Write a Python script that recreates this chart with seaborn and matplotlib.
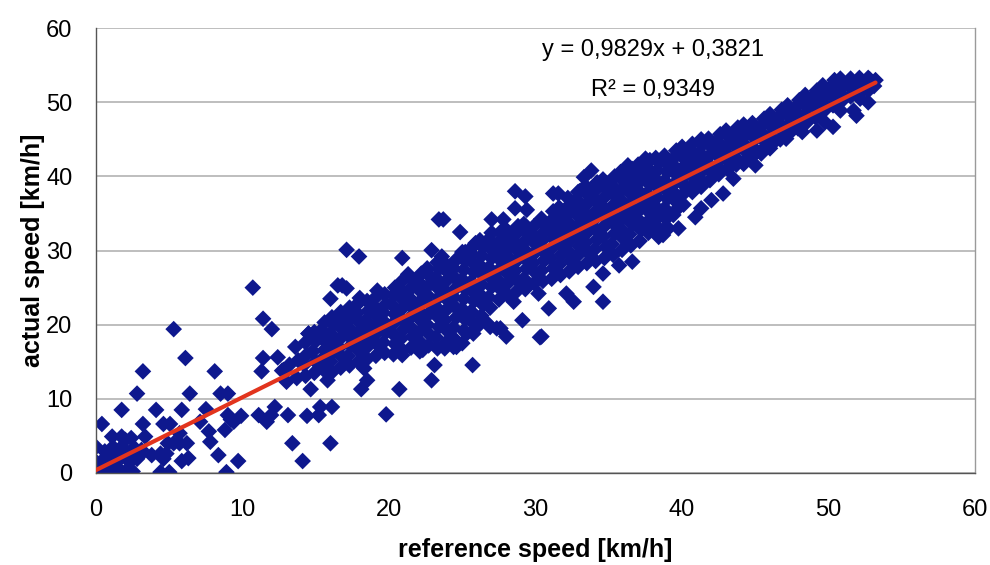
#!/usr/bin/env python3
"""Scatter of actual vs reference speed with linear trend line
"""

# Modules
import pandas as pd
import matplotlib
matplotlib.use("Agg")
import matplotlib.pyplot as plt
import seaborn as sns


# Data (reference speed, actual speed) in km/h
low_points = [
    (0.0, 0.2), (0.05, 0.6), (0.3, 0.2), (0.6, 0.2), (1.15, 0.2), (1.7, 0.2),
    (2.0, 0.2), (2.5, 0.2), (0.0, 1.5), (0.5, 1.1), (0.95, 2.2), (1.4, 2.65),
    (1.75, 3.5), (1.15, 3.5), (0.6, 2.9), (0.0, 3.5), (0.4, 6.6), (1.1, 4.9),
    (1.75, 4.9), (2.4, 4.7), (2.0, 4.45), (1.75, 8.5), (2.8, 10.7), (3.35, 4.9),
    (3.2, 6.6), (3.2, 13.7), (4.1, 8.5), (4.6, 6.6), (5.05, 6.6), (4.9, 4.0),
    (5.3, 4.0), (5.7, 4.0), (6.2, 4.0), (5.7, 5.35), (5.85, 8.5), (5.3, 19.4),
    (6.1, 15.5), (6.4, 10.7), (7.1, 6.9), (7.5, 8.6), (7.7, 5.6), (7.8, 4.2),
    (8.1, 13.7), (8.35, 2.4), (8.5, 10.7), (8.9, 0.1), (8.8, 5.8), (9.0, 10.7),
    (9.0, 7.8), (9.2, 7.2), (9.4, 6.9), (9.7, 1.6), (9.9, 7.7), (10.7, 25.0),
    (11.1, 7.8), (11.3, 13.7), (11.4, 15.5), (11.4, 20.8), (11.65, 6.9),
    (11.95, 7.8), (12.0, 19.4), (12.2, 8.9), (12.4, 15.6), (12.7, 13.8),
    (13.1, 7.8), (13.4, 4.0), (14.1, 1.6), (4.4, 0.1), (5.0, 0.1), (5.85, 1.6),
    (4.4, 2.6), (4.8, 2.6), (4.6, 1.9), (3.8, 2.4), (3.0, 2.4), (2.4, 2.2),
    (2.3, 1.5), (1.2, 1.2), (1.6, 1.8), (2.2, 2.6), (2.6, 3.4), (3.1, 3.1),
    (1.0, 0.6), (0.3, 1.4), (1.3, 2.9), (2.8, 1.9), (6.3, 2.0),
]

band_points = [
    (13.0, 12.3), (13.2, 14.6),
    (13.7, 12.8), (13.8, 15.2), (13.6, 17.0),
    (14.3, 13.1), (14.2, 14.6), (14.4, 16.0), (14.3, 17.6), (14.5, 18.8),
    (14.9, 13.5), (15.0, 15.0), (14.8, 16.4), (15.0, 17.8), (14.9, 19.0),
    (15.5, 14.0), (15.4, 15.3), (15.6, 16.6), (15.5, 18.0), (15.4, 19.3), (15.6, 20.3),
    (16.1, 13.6), (16.0, 15.0), (16.2, 16.3), (16.1, 17.5), (16.0, 18.8), (16.2, 20.0), (16.1, 21.0),
    (16.7, 14.2), (16.8, 15.6), (16.6, 16.9), (16.7, 18.2), (16.8, 19.4), (16.6, 20.6), (16.7, 21.7),
    (17.3, 14.5), (17.2, 15.8), (17.4, 17.2), (17.3, 18.4), (17.2, 19.7), (17.4, 21.0), (17.3, 22.3),
    (17.9, 15.0), (18.0, 16.4), (17.8, 17.7), (17.9, 19.0), (18.0, 20.3), (17.8, 21.6), (17.9, 22.9), (18.0, 23.6),
    (18.5, 15.4), (18.4, 16.8), (18.6, 18.0), (18.5, 19.3), (18.4, 20.6), (18.6, 21.9), (18.5, 23.2),
    (19.1, 15.8), (19.2, 17.3), (19.0, 18.6), (19.1, 19.9), (19.2, 21.1), (19.0, 22.4), (19.1, 23.7), (19.2, 24.6),
    (19.7, 16.2), (19.6, 17.6), (19.8, 19.0), (19.7, 20.3), (19.6, 21.6), (19.8, 22.8), (19.7, 24.1),
    (20.3, 16.0), (20.4, 17.4), (20.2, 18.9), (20.3, 20.2), (20.4, 21.4), (20.2, 22.7), (20.3, 24.0), (20.4, 25.0),
    (20.9, 16.6), (20.8, 18.1), (21.0, 19.4), (20.9, 20.7), (20.8, 22.0), (21.0, 23.3), (20.9, 24.5), (20.8, 25.7),
    (21.5, 16.9), (21.6, 18.4), (21.4, 19.8), (21.5, 21.1), (21.6, 22.4), (21.4, 23.6), (21.5, 24.9), (21.6, 26.0),
    (22.1, 16.4), (22.0, 17.9), (22.2, 19.3), (22.1, 20.7), (22.0, 22.0), (22.2, 23.3), (22.1, 24.6), (22.0, 25.8), (22.2, 26.9),
    (22.7, 17.2), (22.8, 18.6), (22.6, 20.0), (22.7, 21.4), (22.8, 22.7), (22.6, 24.0), (22.7, 25.3), (22.8, 26.5), (22.6, 27.6),
    (23.3, 16.8), (23.2, 18.3), (23.4, 19.7), (23.3, 21.1), (23.2, 22.4), (23.4, 23.7), (23.3, 25.0), (23.2, 26.3), (23.4, 27.5), (23.3, 28.4),
    (23.9, 17.6), (24.0, 19.1), (23.8, 20.6), (23.9, 22.0), (24.0, 23.3), (23.8, 24.6), (23.9, 25.9), (24.0, 27.1), (23.8, 28.3),
    (24.5, 18.0), (24.4, 19.6), (24.6, 21.0), (24.5, 22.4), (24.4, 23.7), (24.6, 25.0), (24.5, 26.3), (24.4, 27.6), (24.6, 28.8),
    (25.1, 19.2), (25.2, 20.7), (25.0, 22.1), (25.1, 23.5), (25.2, 24.8), (25.0, 26.1), (25.1, 27.4), (25.2, 28.6), (25.0, 29.8),
    (25.7, 20.3), (25.6, 21.8), (25.8, 23.2), (25.7, 24.5), (25.6, 25.8), (25.8, 27.1), (25.7, 28.4), (25.6, 29.6), (25.8, 30.7),
    (26.3, 21.2), (26.4, 22.7), (26.2, 24.1), (26.3, 25.4), (26.4, 26.7), (26.2, 28.0), (26.3, 29.3), (26.4, 30.5), (26.2, 31.4),
    (26.9, 22.3), (26.8, 23.7), (27.0, 25.1), (26.9, 26.4), (26.8, 27.7), (27.0, 29.0), (26.9, 30.3), (26.8, 31.5), (27.0, 32.4),
    (27.5, 23.4), (27.6, 24.8), (27.4, 26.1), (27.5, 27.4), (27.6, 28.7), (27.4, 30.0), (27.5, 31.2), (27.6, 32.5),
    (28.1, 24.0), (28.0, 25.4), (28.2, 26.7), (28.1, 28.0), (28.0, 29.3), (28.2, 30.5), (28.1, 31.7), (28.0, 32.8),
    (28.7, 24.5), (28.8, 25.9), (28.6, 27.3), (28.7, 28.6), (28.8, 29.9), (28.6, 31.1), (28.7, 32.3), (28.8, 33.3),
    (29.3, 24.8), (29.2, 26.2), (29.4, 27.6), (29.3, 28.9), (29.2, 30.2), (29.4, 31.5), (29.3, 32.7), (29.2, 33.6),
    (29.9, 25.6), (30.0, 27.0), (29.8, 28.3), (29.9, 29.6), (30.0, 30.9), (29.8, 32.1), (29.9, 33.3),
    (30.5, 25.9), (30.4, 27.3), (30.6, 28.7), (30.5, 30.0), (30.4, 31.3), (30.6, 32.5), (30.5, 33.7), (30.4, 34.3),
    (31.1, 26.2), (31.2, 27.6), (31.0, 29.0), (31.1, 30.3), (31.2, 31.6), (31.0, 32.9), (31.1, 34.1), (31.2, 35.3),
    (31.7, 26.7), (31.6, 28.1), (31.8, 29.5), (31.7, 30.8), (31.6, 32.1), (31.8, 33.4), (31.7, 34.6), (31.6, 35.8),
    (32.3, 27.2), (32.4, 28.6), (32.2, 30.0), (32.3, 31.3), (32.4, 32.6), (32.2, 33.9), (32.3, 35.1), (32.4, 36.3), (32.2, 37.1),
    (32.9, 27.8), (32.8, 29.2), (33.0, 30.6), (32.9, 31.9), (32.8, 33.2), (33.0, 34.5), (32.9, 35.7), (32.8, 36.9), (33.0, 38.0),
    (33.5, 28.3), (33.6, 29.7), (33.4, 31.1), (33.5, 32.4), (33.6, 33.7), (33.4, 35.0), (33.5, 36.3), (33.6, 37.5), (33.4, 38.7),
    (34.1, 28.6), (34.0, 30.1), (34.2, 31.5), (34.1, 32.9), (34.0, 34.2), (34.2, 35.5), (34.1, 36.8), (34.0, 38.0), (34.2, 39.2),
    (34.7, 29.0), (34.8, 30.5), (34.6, 31.9), (34.7, 33.3), (34.8, 34.6), (34.6, 35.9), (34.7, 37.2), (34.8, 38.4), (34.6, 39.6),
    (35.3, 29.4), (35.2, 30.9), (35.4, 32.3), (35.3, 33.7), (35.2, 35.0), (35.4, 36.3), (35.3, 37.6), (35.2, 38.8), (35.4, 40.0),
    (35.9, 30.1), (36.0, 31.6), (35.8, 33.0), (35.9, 34.3), (36.0, 35.6), (35.8, 36.9), (35.9, 38.2), (36.0, 39.4), (35.8, 40.6),
    (36.5, 30.7), (36.4, 32.2), (36.6, 33.6), (36.5, 34.9), (36.4, 36.2), (36.6, 37.5), (36.5, 38.8), (36.4, 40.0), (36.6, 41.0),
    (37.1, 31.3), (37.2, 32.8), (37.0, 34.2), (37.1, 35.5), (37.2, 36.8), (37.0, 38.1), (37.1, 39.3), (37.2, 40.5), (37.0, 41.6),
    (37.7, 32.4), (37.6, 33.8), (37.8, 35.1), (37.7, 36.4), (37.6, 37.7), (37.8, 38.9), (37.7, 40.1), (37.6, 41.2), (37.8, 42.2),
    (38.3, 33.2), (38.4, 34.6), (38.2, 35.9), (38.3, 37.2), (38.4, 38.4), (38.2, 39.6), (38.3, 40.8), (38.4, 41.9), (38.2, 42.5),
    (38.9, 34.3), (38.8, 35.7), (39.0, 37.0), (38.9, 38.2), (38.8, 39.4), (39.0, 40.6), (38.9, 41.8), (38.8, 42.8),
    (39.5, 35.3), (39.6, 36.6), (39.4, 37.9), (39.5, 39.1), (39.6, 40.3), (39.4, 41.5), (39.5, 42.6), (39.6, 43.5),
    (40.1, 36.2), (40.0, 37.5), (40.2, 38.7), (40.1, 39.9), (40.0, 41.1), (40.2, 42.3), (40.1, 43.4), (40.0, 44.0),
    (40.7, 37.9), (40.8, 39.0), (40.6, 40.2), (40.7, 41.3), (40.8, 42.4), (40.6, 43.5), (40.7, 44.4),
    (41.3, 38.6), (41.2, 39.7), (41.4, 40.8), (41.3, 42.0), (41.2, 43.2), (41.4, 44.3), (41.3, 45.0),
    (41.9, 39.5), (42.0, 40.6), (41.8, 41.7), (41.9, 42.9), (42.0, 44.0), (41.8, 45.1),
    (42.5, 40.3), (42.4, 41.4), (42.6, 42.5), (42.5, 43.6), (42.4, 44.7), (42.6, 45.7),
    (43.1, 41.0), (43.2, 42.0), (43.0, 43.1), (43.1, 44.2), (43.2, 45.3), (43.0, 46.2),
    (43.7, 41.6), (43.6, 42.6), (43.8, 43.7), (43.7, 44.8), (43.6, 45.8), (43.8, 46.6),
    (44.3, 42.2), (44.4, 43.3), (44.2, 44.4), (44.3, 45.5), (44.4, 46.5), (44.2, 47.0),
    (44.9, 42.9), (44.8, 44.0), (45.0, 45.1), (44.9, 46.2), (44.8, 47.2),
    (45.5, 43.6), (45.6, 44.8), (45.4, 45.9), (45.5, 46.9), (45.6, 47.8),
    (46.1, 44.3), (46.0, 45.5), (46.2, 46.6), (46.1, 47.6), (46.0, 48.4),
    (46.7, 45.0), (46.8, 46.2), (46.6, 47.2), (46.7, 48.2), (46.8, 49.0),
    (47.3, 45.8), (47.2, 46.9), (47.4, 47.9), (47.3, 48.9), (47.2, 49.6),
    (47.9, 46.5), (48.0, 47.6), (47.8, 48.6), (47.9, 49.6), (48.0, 50.3),
    (48.5, 47.3), (48.4, 48.4), (48.6, 49.4), (48.5, 50.4), (48.4, 51.0),
    (49.1, 48.0), (49.2, 49.1), (49.0, 50.1), (49.1, 51.0), (49.2, 51.6),
    (49.7, 48.9), (49.6, 49.9), (49.8, 50.9), (49.7, 51.8), (49.6, 52.3),
    (50.3, 49.6), (50.4, 50.6), (50.2, 51.6), (50.3, 52.4), (50.4, 53.0),
    (50.9, 50.2), (50.8, 51.2), (51.0, 52.2), (50.9, 52.9), (50.8, 53.2),
    (51.5, 50.8), (51.6, 51.8), (51.4, 52.6), (51.5, 53.2),
    (52.1, 51.2), (52.0, 52.2), (52.2, 52.9), (52.1, 53.3),
    (52.7, 51.6), (52.6, 52.5), (52.8, 53.1), (52.7, 53.3),
    (53.1, 52.2), (53.2, 53.0),
]

stray_points = [
    # above the band
    (16.0, 23.5), (16.5, 25.3), (16.8, 25.3), (17.1, 24.9), (17.1, 30.1),
    (17.95, 29.2), (20.9, 29.0), (21.3, 26.8), (22.9, 30.05), (23.4, 34.2),
    (23.7, 34.2), (23.6, 29.2), (24.85, 32.5), (25.2, 29.8), (25.9, 31.0),
    (27.0, 34.2), (27.8, 34.2), (28.6, 38.0), (29.3, 37.3), (28.6, 35.7),
    (29.4, 35.5), (31.2, 37.7), (31.55, 37.7), (32.9, 37.9), (33.3, 39.9),
    (33.8, 40.8), (36.3, 41.5), (37.5, 42.4), (14.5, 18.8),
    # below the band
    (14.65, 11.3), (15.8, 12.5), (18.1, 11.3), (18.5, 12.5), (18.3, 14.1),
    (20.7, 11.3), (22.9, 12.5), (23.1, 14.55), (25.7, 14.55), (15.3, 8.9),
    (16.1, 8.9), (15.2, 7.8), (14.4, 7.7), (12.8, 13.9), (16.0, 4.0),
    (19.8, 7.9), (20.9, 15.9), (22.3, 16.6), (23.8, 16.8), (24.4, 17.0),
    (25.0, 17.5), (25.3, 18.8), (25.9, 19.5), (26.8, 20.0), (27.6, 19.5),
    (30.3, 18.3), (34.6, 23.1), (32.6, 23.1), (30.9, 22.2), (29.1, 20.6),
    (28.0, 18.4), (33.95, 25.1), (34.6, 26.9), (36.6, 28.5), (35.7, 28.0),
    (37.4, 33.2), (38.4, 31.85), (32.1, 24.2), (30.2, 24.2), (27.35, 19.5),
    (26.4, 20.6), (24.6, 17.0), (26.9, 19.7), (25.75, 18.8), (28.5, 23.1),
    (30.4, 18.4), (38.95, 32.8), (38.2, 34.5), (39.4, 34.8), (38.95, 33.2),
    (39.75, 33.0), (38.7, 32.1), (40.9, 34.5), (41.3, 35.7), (42.0, 36.8),
    (42.8, 37.7), (43.5, 39.7), (44.2, 41.7), (45.0, 41.5), (45.4, 43.1),
    (46.0, 43.8), (47.1, 45.1), (48.2, 46.0), (49.2, 46.2), (49.75, 47.3),
    (50.3, 46.7), (50.8, 48.9), (51.9, 48.2), (51.7, 48.9), (52.7, 50.0),
    (52.15, 50.5),
]

# Trend line as printed on the chart
slope = 0.9829
intercept = 0.3821
r_squared = 0.9349

# Build a table for seaborn
points = low_points + band_points + stray_points
df = pd.DataFrame(points, columns=["reference", "actual"])

trend = pd.DataFrame({"reference": [df["reference"].min(), df["reference"].max()]})
trend["actual"] = slope * trend["reference"] + intercept

# Plot
sns.set_style("white")
plt.rcParams["font.family"] = ["Liberation Sans", "DejaVu Sans"]
plt.rcParams["text.color"] = "black"
plt.rcParams["axes.labelcolor"] = "black"

fig = plt.figure(figsize=(9.9, 5.65), dpi=100)
ax = fig.add_axes([0.097, 0.163, 0.888, 0.787])

ax.yaxis.grid(True, color="#acacac", linewidth=1.1)
ax.set_axisbelow(True)

sns.scatterplot(data=df, x="reference", y="actual", marker="D", s=72,
                color="#0e188e", edgecolor="none", linewidth=0, ax=ax, zorder=2)
sns.lineplot(data=trend, x="reference", y="actual", color="#e2341d",
             linewidth=3.0, ax=ax, zorder=3)

ax.set_xlim(0, 60)
ax.set_ylim(0, 60)
ax.set_xticks(range(0, 61, 10))
ax.set_yticks(range(0, 61, 10))
ax.tick_params(axis="both", labelsize=17, length=7, width=1, labelcolor="black",
               color="#8a8a8a", pad=10, direction="out")
ax.tick_params(axis="x", pad=12)

for side in ["left", "bottom"]:
    ax.spines[side].set_color("#555555")
    ax.spines[side].set_linewidth(1.0)
ax.spines["right"].set_color("#9a9a9a")
ax.spines["right"].set_linewidth(1.0)
ax.spines["top"].set_visible(False)

ax.set_xlabel("reference speed [km/h]", fontsize=18, fontweight="bold", labelpad=12)
ax.set_ylabel("actual speed [km/h]", fontsize=18, fontweight="bold", labelpad=1)

eq_text = "y = " + f"{slope:.4f}".replace(".", ",") + "x + " + f"{intercept:.4f}".replace(".", ",")
r_text = "R² = " + f"{r_squared:.4f}".replace(".", ",")
ax.text(0.633, 0.951, eq_text, transform=ax.transAxes, fontsize=17,
        ha="center", va="center")
ax.text(0.633, 0.861, r_text, transform=ax.transAxes, fontsize=17,
        ha="center", va="center")

fig.savefig("out.png", dpi=100)
